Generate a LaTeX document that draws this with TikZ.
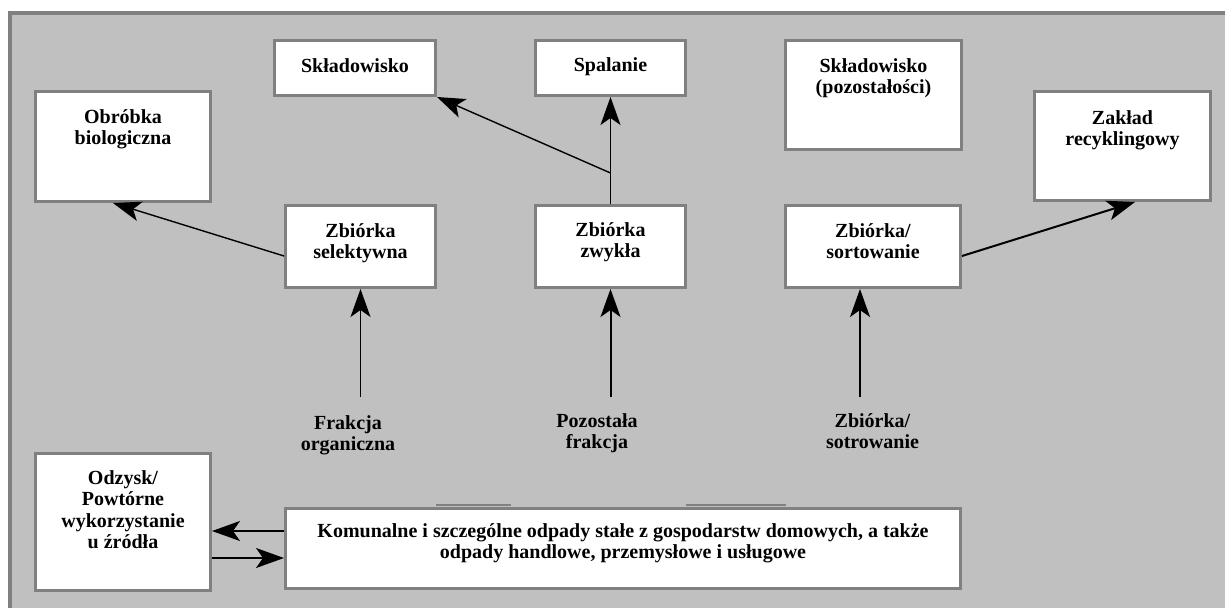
\documentclass[tikz,border=0pt]{standalone}
\usepackage{fontspec}
\setmainfont{Liberation Serif}
\usetikzlibrary{arrows.meta,calc}
\definecolor{panelgray}{HTML}{C0C0C0}
\definecolor{framegray}{HTML}{808080}
\begin{document}
\begin{tikzpicture}[x=1pt,y=-1pt,
  box/.style={draw=framegray, line width=3pt, fill=white, rectangle, inner sep=0pt},
  lbl/.style={font=\bfseries\fontsize{20}{21.5}\selectfont, align=center, inner sep=0pt, anchor=north},
  flow/.style={line width=1.4pt, -{Stealth[length=28pt,width=20pt,inset=7pt]}},
  thickflow/.style={flow, line width=2pt},
  link/.style={line width=1.4pt}]
\useasboundingbox (0,0) rectangle (1225,608);
% panel
\fill[panelgray] (8,11) rectangle (1225,608);
\draw[framegray, line width=4pt] (10,608) -- (10,13) -- (1225,13);

% upper row
\node[box, minimum width=161pt, minimum height=55pt] (skl) at (355,68) {};
\node[box, minimum width=150pt, minimum height=55pt] (spal) at (610.5,68) {};
\node[box, minimum width=176pt, minimum height=109pt] (sklp) at (873.5,95) {};
\node[box, minimum width=175pt, minimum height=110pt] (obr) at (123,146.5) {};
\node[box, minimum width=176pt, minimum height=109pt] (zakl) at (1122.5,146) {};

% collection row
\node[box, minimum width=150pt, minimum height=82pt] (zsel) at (360.5,246.5) {};
\node[box, minimum width=150pt, minimum height=82pt] (zzw) at (610.5,246.5) {};
\node[box, minimum width=175pt, minimum height=82pt] (zsort) at (873,246.5) {};

% bottom row
\draw[framegray, line width=2.5pt] (436,505) -- (511,505);
\draw[framegray, line width=2.5pt] (686,505) -- (786,505);
\node[box, minimum width=175pt, minimum height=137pt] (odz) at (123,522) {};
\node[box, minimum width=675pt, minimum height=80pt] (kom) at (623,548.5) {};

% box texts
\node[lbl] (tskl) at (355,58) {Składowisko};
\node[lbl] (tspal) at (610.5,57.5) {Spalanie};
\node[lbl] (tsklp) at (873.5,58) {Składowisko\\(pozostałości)};
\node[lbl] (tobr) at (123,109) {Obróbka\\biologiczna};
\node[lbl] (tzakl) at (1122.5,110) {Zakład\\recyklingowy};
\node[lbl] (tzsel) at (360.5,223) {Zbiórka\\selektywna};
\node[lbl] (tzzw) at (610.5,222) {Zbiórka\\zwykła};
\node[lbl] (tzsort) at (873,223) {Zbiórka/\\sortowanie};
\node[lbl] (todz) at (123,470) {Odzysk/\\Powtórne\\wykorzystanie\\u źródła};
\node[lbl] (tkom) at (623,523) {Komunalne i szczególne odpady stałe z gospodarstw domowych, a także\\odpady handlowe, przemysłowe i usługowe};

% fraction labels
\node[lbl] (lfo) at (348,415) {Frakcja\\organiczna};
\node[lbl] (lpf) at (597,413) {Pozostała\\frakcja};
\node[lbl] (lzs) at (872.5,413) {Zbiórka/\\sotrowanie};

% arrow origins
\coordinate (fo) at (360.5,397);
\coordinate (pf) at (610.5,397);
\coordinate (zs) at (860,397);
\coordinate (j) at (610.5,173);

% connectors
\draw[link] (zzw.north) -- (j);
\draw[flow] (j) -- (spal.south);
\draw[flow] (j) -- (skl.south east);
\draw[flow] ($(zsel.west)+(0,9.5)$) -- ($(obr.south)+(-10,0)$);
\draw[thickflow] ($(zsort.east)+(0,9.5)$) -- ($(zakl.south)+(12.5,0)$);
\draw[flow] (fo) -- (zsel.south);
\draw[thickflow] (pf) -- (zzw.south);
\draw[flow] (zs) -- (zs |- zsort.south);
\draw[flow] ($(kom.west)+(0,-17.5)$) -- ($(odz.east)+(0,9)$);
\draw[flow] ($(odz.east)+(0,36)$) -- ($(kom.west)+(0,9.5)$);
\end{tikzpicture}
\end{document}
